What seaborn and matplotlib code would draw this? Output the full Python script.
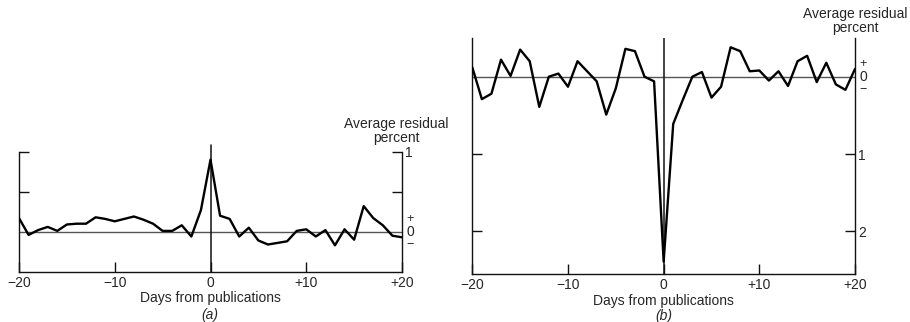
import matplotlib
matplotlib.use('Agg')
import matplotlib.pyplot as plt
import seaborn as sns
import pandas as pd


# days around publication
days = list(range(-20, 21))

# panel (a) average residual percent
resid_a = [0.17, -0.04, 0.02, 0.06, 0.01, 0.09, 0.10, 0.10, 0.18, 0.16,
           0.13, 0.16, 0.19, 0.15, 0.10, 0.01, 0.01, 0.08, -0.06, 0.27,
           0.90, 0.20, 0.16, -0.06, 0.05, -0.11, -0.16, -0.14, -0.12, 0.01,
           0.03, -0.06, 0.02, -0.17, 0.03, -0.10, 0.32, 0.17, 0.08, -0.05,
           -0.07]

# panel (b) average residual percent
resid_b = [0.12, -0.29, -0.22, 0.22, 0.01, 0.35, 0.20, -0.39, 0.00, 0.04,
           -0.13, 0.20, 0.07, -0.06, -0.49, -0.15, 0.36, 0.33, 0.00, -0.06,
           -2.39, -0.61, -0.30, 0.00, 0.06, -0.27, -0.13, 0.38, 0.33, 0.07,
           0.08, -0.05, 0.07, -0.12, 0.20, 0.27, -0.07, 0.18, -0.10, -0.17,
           0.10]

xtick_vals = [-20, -10, 0, 10, 20]
xtick_labels = ['\u221220', '\u221210', '0', '+10', '+20']

df_a = pd.DataFrame({'day': days, 'resid': resid_a})
df_b = pd.DataFrame({'day': days, 'resid': resid_b})

sns.set_style('ticks')
plt.rcParams['font.family'] = ['Liberation Sans', 'DejaVu Sans']
fs = 10

fig = plt.figure(figsize=(9.1, 3.22), dpi=100)
W, H = 910, 322


def make_ax(left, right, top, bottom):
    return fig.add_axes([left / W, 1 - bottom / H, (right - left) / W, (bottom - top) / H])


def style(ax, ylim, yticks, ylabels):
    ax.set_xlim(-20, 20)
    ax.set_ylim(*ylim)
    for s in ['left', 'right', 'bottom']:
        ax.spines[s].set_visible(True)
        ax.spines[s].set_linewidth(1.0)
        ax.spines[s].set_color('#111111')
    ax.spines['top'].set_visible(False)
    ax.set_xticks(xtick_vals)
    ax.set_xticklabels(xtick_labels, fontsize=fs)
    ax.set_yticks(yticks)
    ax.set_yticklabels(ylabels, fontsize=fs)
    ax.tick_params(axis='both', direction='in', length=7, width=1.0, color='#111111')
    ax.tick_params(axis='y', left=True, right=True, labelleft=False, labelright=True, pad=2)
    ax.tick_params(axis='x', pad=3)
    ax.axhline(0, color='#555555', lw=1.0, zorder=1)
    ax.set_xlabel('Days from publications', fontsize=fs, labelpad=1)
    ax.set_ylabel('')


def sign_labels(ax, xpix, ypix0):
    # + / - marks above and below the zero label
    fig.text(xpix / W, 1 - (ypix0 - 13) / H, '+', fontsize=9, ha='center', va='center')
    fig.text(xpix / W, 1 - ypix0 / H, '0', fontsize=fs, ha='center', va='center')
    fig.text(xpix / W, 1 - (ypix0 + 13) / H, '\u2212', fontsize=9, ha='center', va='center')


# panel (a)
ax1 = make_ax(19, 402, 151.7, 271.7)
sns.lineplot(data=df_a, x='day', y='resid', ax=ax1, color='black', lw=1.7, zorder=3)
style(ax1, (-0.5, 1.0), [0.5, 1.0], ['', '1'])
ax1.plot([0, 0], [-0.5, 1.08], color='#111111', lw=1.1, clip_on=False, zorder=2)
sign_labels(ax1, 410, 231.7)
fig.text(396 / W, 1 - 131 / H, 'Average residual\npercent', fontsize=fs, ha='center', va='center',
         linespacing=1.05)
fig.text(210 / W, 1 - 315 / H, '(a)', fontsize=fs, ha='center', va='center', style='italic')

# panel (b)
ax2 = make_ax(472.3, 855, 38, 274)
sns.lineplot(data=df_b, x='day', y='resid', ax=ax2, color='black', lw=1.7, zorder=3)
style(ax2, (-2.55, 0.5), [-1, -2], ['1', '2'])
ax2.axvline(0, color='#111111', lw=1.1, zorder=2)
sign_labels(ax2, 863, 77)
fig.text(855 / W, 1 - 21 / H, 'Average residual\npercent', fontsize=fs, ha='center', va='center',
         linespacing=1.05)
fig.text(664 / W, 1 - 316 / H, '(b)', fontsize=fs, ha='center', va='center', style='italic')

fig.savefig('out.png', dpi=100)
